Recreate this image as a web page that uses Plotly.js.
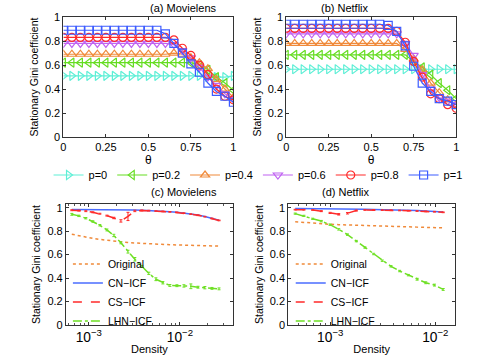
<!DOCTYPE html>
<html>
<head>
<meta charset="utf-8">
<script src="https://cdn.plot.ly/plotly-3.0.1.min.js"></script>
<style>
  html, body { margin: 0; padding: 0; background: #fff; }
  #chart { width: 503px; height: 355px; }
</style>
</head>
<body>
<div id="chart"></div>
<script>
// theta grid for panels (a) and (b)
const theta = [0, 0.05, 0.1, 0.15, 0.2, 0.25, 0.3, 0.35, 0.4, 0.45, 0.5,
               0.55, 0.6, 0.65, 0.7, 0.75, 0.8, 0.85, 0.9, 0.95, 1];
const pLabels = ['p=0', 'p=0.2', 'p=0.4', 'p=0.6', 'p=0.8', 'p=1'];

// (a) Movielens
const mlP0  = [0.51,0.51,0.51,0.51,0.51,0.51,0.51,0.51,0.51,0.51,0.51,0.51,0.51,0.51,0.51,0.51,0.51,0.50,0.50,0.50,0.51];
const mlP02 = [0.62,0.62,0.62,0.62,0.62,0.62,0.62,0.62,0.62,0.62,0.62,0.62,0.62,0.62,0.62,0.62,0.60,0.56,0.50,0.45,0.39];
const mlP04 = [0.69,0.69,0.69,0.69,0.69,0.69,0.69,0.69,0.69,0.69,0.69,0.69,0.69,0.70,0.69,0.66,0.62,0.57,0.48,0.40,0.33];
const mlP06 = [0.78,0.78,0.78,0.78,0.78,0.78,0.78,0.78,0.78,0.78,0.78,0.78,0.78,0.77,0.72,0.66,0.58,0.50,0.43,0.36,0.32];
const mlP08 = [0.83,0.83,0.83,0.83,0.83,0.83,0.83,0.83,0.83,0.83,0.83,0.83,0.83,0.81,0.74,0.68,0.60,0.52,0.40,0.34,0.31];
const mlP1  = [0.89,0.89,0.89,0.89,0.89,0.89,0.89,0.89,0.89,0.89,0.89,0.89,0.86,0.78,0.70,0.61,0.54,0.45,0.38,0.34,0.29];

// (b) Netflix
const nfP0  = [0.565,0.565,0.565,0.565,0.565,0.565,0.565,0.565,0.565,0.565,0.565,0.565,0.565,0.565,0.565,0.565,0.565,0.565,0.565,0.565,0.565];
const nfP02 = [0.685,0.685,0.685,0.685,0.685,0.685,0.685,0.685,0.685,0.685,0.685,0.685,0.685,0.685,0.685,0.63,0.58,0.52,0.45,0.39,0.32];
const nfP04 = [0.78,0.78,0.78,0.78,0.78,0.78,0.78,0.78,0.78,0.78,0.78,0.78,0.78,0.78,0.73,0.65,0.56,0.45,0.37,0.31,0.27];
const nfP06 = [0.86,0.86,0.86,0.86,0.86,0.86,0.86,0.86,0.86,0.86,0.86,0.86,0.86,0.86,0.78,0.68,0.52,0.40,0.33,0.30,0.27];
const nfP08 = [0.905,0.905,0.905,0.905,0.905,0.905,0.905,0.905,0.905,0.905,0.905,0.905,0.905,0.88,0.79,0.63,0.50,0.36,0.32,0.27,0.24];
const nfP1  = [0.94,0.94,0.94,0.94,0.94,0.94,0.94,0.94,0.94,0.94,0.94,0.94,0.93,0.88,0.76,0.59,0.45,0.38,0.32,0.30,0.27];

// (c) Movielens vs density
const mlDensity = [6.5e-4, 7.76e-4, 9.27e-4, 1.107e-3, 1.32e-3, 1.58e-3, 1.88e-3, 2.25e-3, 2.69e-3, 3.2e-3, 3.82e-3,
                   4.56e-3, 5.45e-3, 6.5e-3, 7.76e-3, 9.27e-3, 1.107e-2, 1.32e-2, 1.58e-2, 1.88e-2, 2.25e-2, 2.69e-2];
const mlOrig = [0.773,0.760,0.748,0.738,0.729,0.721,0.714,0.708,0.703,0.699,0.695,0.692,0.689,0.686,0.684,0.682,0.680,0.678,0.676,0.675,0.673,0.672];
const mlCN   = [0.985,0.985,0.985,0.984,0.984,0.983,0.983,0.982,0.981,0.980,0.978,0.976,0.973,0.970,0.966,0.961,0.955,0.947,0.937,0.925,0.910,0.893];
const mlCS   = [0.978,0.975,0.970,0.960,0.948,0.932,0.912,0.887,0.925,0.972,0.976,0.974,0.971,0.968,0.964,0.959,0.953,0.945,0.935,0.923,0.908,0.891];
const mlCSErr = [0.004,0.004,0.004,0.004,0.004,0.004,0.006,0.010,0.035,0.006,0.004,0.004,0.003,0.003,0.003,0.003,0.003,0.003,0.003,0.003,0.003,0.003];
const mlLHN  = [0.943,0.930,0.910,0.882,0.850,0.810,0.763,0.700,0.625,0.560,0.500,0.440,0.390,0.360,0.337,0.335,0.333,0.330,0.322,0.318,0.312,0.308];
const mlLHNErr = [0.008,0.006,0.006,0.006,0.006,0.008,0.010,0.008,0.012,0.015,0.008,0.010,0.012,0.010,0.008,0.008,0.010,0.020,0.008,0.010,0.008,0.008];

// (d) Netflix vs density
const nfDensity = [4.64e-4, 5.62e-4, 6.8e-4, 8.23e-4, 9.96e-4, 1.205e-3, 1.46e-3, 1.77e-3, 2.14e-3,
                   2.59e-3, 3.13e-3, 3.79e-3, 4.58e-3, 5.54e-3, 6.71e-3, 8.12e-3, 9.83e-3, 1.19e-2];
const nfOrig = [0.880,0.873,0.867,0.862,0.858,0.855,0.852,0.850,0.848,0.845,0.843,0.840,0.838,0.836,0.834,0.832,0.830,0.828];
const nfCN   = [0.993,0.993,0.992,0.992,0.991,0.990,0.989,0.988,0.987,0.985,0.984,0.982,0.980,0.978,0.975,0.972,0.968,0.963];
const nfCS   = [0.983,0.982,0.980,0.970,0.955,0.943,0.952,0.975,0.980,0.980,0.979,0.978,0.976,0.974,0.971,0.968,0.965,0.960];
const nfCSErr = [0.003,0.003,0.003,0.004,0.005,0.006,0.006,0.004,0.003,0.003,0.003,0.003,0.003,0.003,0.003,0.003,0.003,0.003];
const nfLHN  = [0.949,0.930,0.905,0.885,0.855,0.815,0.770,0.715,0.660,0.605,0.548,0.500,0.460,0.425,0.390,0.360,0.340,0.303];
const nfLHNErr = [0.005,0.005,0.005,0.006,0.006,0.006,0.006,0.006,0.006,0.006,0.006,0.006,0.006,0.006,0.008,0.008,0.008,0.008];

const methodLabels = ['Original', 'CN\u2212ICF', 'CS\u2212ICF', 'LHN\u2212ICF'];

const FONT = 'Liberation Sans, Arial, sans-serif';
const pColors = ['#5eefd6', '#66dd22', '#f08a3a', '#c063f2', '#ff2a2a', '#3d5cff'];
const pSymbols = ['triangle-right-open', 'triangle-left-open', 'triangle-up-open',
                  'triangle-down-open', 'circle-open', 'square-open'];

const traces = [];
const mlSeries = [mlP0, mlP02, mlP04, mlP06, mlP08, mlP1];
const nfSeries = [nfP0, nfP02, nfP04, nfP06, nfP08, nfP1];

mlSeries.forEach((ys, k) => {
    traces.push({
        x: theta, y: ys, xaxis: 'x', yaxis: 'y', type: 'scatter', mode: 'lines+markers',
        name: pLabels[k], legend: 'legend',
        line: { color: pColors[k], width: 1.2 },
        marker: { symbol: pSymbols[k], size: 8, color: pColors[k], line: { width: 1.2 } }
    });
});
nfSeries.forEach((ys, k) => {
    traces.push({
        x: theta, y: ys, xaxis: 'x2', yaxis: 'y2', type: 'scatter', mode: 'lines+markers',
        name: pLabels[k], showlegend: false,
        line: { color: pColors[k], width: 1.2 },
        marker: { symbol: pSymbols[k], size: 8, color: pColors[k], line: { width: 1.2 } }
    });
});

const mColors = ['#f08a3a', '#4a6cff', '#ff2a2a', '#6ee024'];
const mDash = ['dot', 'solid', 'dash', 'dashdot'];

function densityTraces(xs, orig, cn, cs, csErr, lhn, lhnErr, xa, ya, leg) {
    const ys = [orig, cn, cs, lhn];
    const errs = [null, null, csErr, lhnErr];
    ys.forEach((y, k) => {
        const t = {
            x: xs, y: y, xaxis: xa, yaxis: ya, type: 'scatter', mode: 'lines',
            name: methodLabels[k], legend: leg,
            line: { color: mColors[k], width: 1.5, dash: mDash[k] }
        };
        if (errs[k]) {
            t.error_y = { type: 'data', array: errs[k], visible: true,
                          color: mColors[k], thickness: 1, width: 1.5 };
        }
        traces.push(t);
    });
}
densityTraces(mlDensity, mlOrig, mlCN, mlCS, mlCSErr, mlLHN, mlLHNErr, 'x3', 'y3', 'legend2');
densityTraces(nfDensity, nfOrig, nfCN, nfCS, nfCSErr, nfLHN, nfLHNErr, 'x4', 'y4', 'legend3');

const axBase = {
    showline: true, linecolor: '#333', linewidth: 1, mirror: 'ticks',
    ticks: 'inside', ticklen: 3, tickcolor: '#333', showgrid: false, zeroline: false,
    automargin: false,
    tickfont: { family: FONT, size: 11, color: '#000' },
    title: { font: { family: FONT, size: 11, color: '#000' } }
};
function ax(extra) { return Object.assign({}, JSON.parse(JSON.stringify(axBase)), extra); }

const thetaAxis = (dom) => ax({ domain: dom, range: [0, 1], tickvals: [0, 0.25, 0.5, 0.75, 1],
    ticktext: ['0', '0.25', '0.5', '0.75', '1'],
    title: { text: '\u03b8', standoff: 2, font: { family: FONT, size: 12, color: '#000' } } });
const giniAxis = (dom, anchor, top) => ax({ domain: dom, anchor: anchor, range: [0, top],
    tickvals: [0, 0.2, 0.4, 0.6, 0.8, 1], ticktext: ['0', '0.2', '0.4', '0.6', '0.8', '1'],
    title: { text: 'Stationary Gini coefficient', standoff: 4, font: { family: FONT, size: 10.5, color: '#000' } } });
const densityAxis = (dom, rng) => ax({ domain: dom, type: 'log', range: rng, dtick: 1,
    exponentformat: 'power', showexponent: 'all',
    minor: { ticks: 'inside', ticklen: 2, tickcolor: '#555', dtick: 'D1', showgrid: false },
    title: { text: 'Density', standoff: 2, font: { family: FONT, size: 11, color: '#000' } } });

const titleFont = { family: FONT, size: 11, color: '#000' };

const layout = {
    width: 503, height: 355,
    margin: { l: 0, r: 0, t: 0, b: 0, autoexpand: false },
    paper_bgcolor: '#fff', plot_bgcolor: '#fff',
    font: { family: FONT, size: 11, color: '#000' },
    xaxis:  Object.assign(thetaAxis([0.126, 0.464]), { anchor: 'y' }),
    yaxis:  giniAxis([0.614, 0.952], 'x', 1),
    xaxis2: Object.assign(thetaAxis([0.569, 0.907]), { anchor: 'y2' }),
    yaxis2: giniAxis([0.614, 0.952], 'x2', 1),
    xaxis3: Object.assign(densityAxis([0.131, 0.463], [-3.252, -1.418]), { anchor: 'y3' }),
    yaxis3: giniAxis([0.0845, 0.425], 'x3', 1.03),
    xaxis4: Object.assign(densityAxis([0.573, 0.905], [-3.4, -1.81]), { anchor: 'y4' }),
    yaxis4: giniAxis([0.0845, 0.425], 'x4', 1.03),
    legend: {
        orientation: 'h', x: 0.513, y: 0.507, xanchor: 'center', yanchor: 'middle',
        font: { family: FONT, size: 11, color: '#000' }, itemwidth: 30,
        bgcolor: 'rgba(0,0,0,0)', borderwidth: 0
    },
    legend2: {
        x: 0.135, y: 0.297, xanchor: 'left', yanchor: 'top',
        font: { family: FONT, size: 10.5, color: '#000' }, itemwidth: 30,
        bgcolor: 'rgba(0,0,0,0)', borderwidth: 0
    },
    legend3: {
        x: 0.578, y: 0.297, xanchor: 'left', yanchor: 'top',
        font: { family: FONT, size: 10.5, color: '#000' }, itemwidth: 30,
        bgcolor: 'rgba(0,0,0,0)', borderwidth: 0
    },
    annotations: [
        { text: '(a) Movielens', xref: 'paper', yref: 'paper', x: 0.295, y: 0.977, showarrow: false, font: titleFont, yanchor: 'middle' },
        { text: '(b) Netflix', xref: 'paper', yref: 'paper', x: 0.738, y: 0.977, showarrow: false, font: titleFont, yanchor: 'middle' },
        { text: '(c) Movielens', xref: 'paper', yref: 'paper', x: 0.297, y: 0.46, showarrow: false, font: titleFont, yanchor: 'middle' },
        { text: '(d) Netflix', xref: 'paper', yref: 'paper', x: 0.739, y: 0.46, showarrow: false, font: titleFont, yanchor: 'middle' }
    ]
};

Plotly.newPlot('chart', traces, layout, { displayModeBar: false, staticPlot: true });
</script>
</body>
</html>
